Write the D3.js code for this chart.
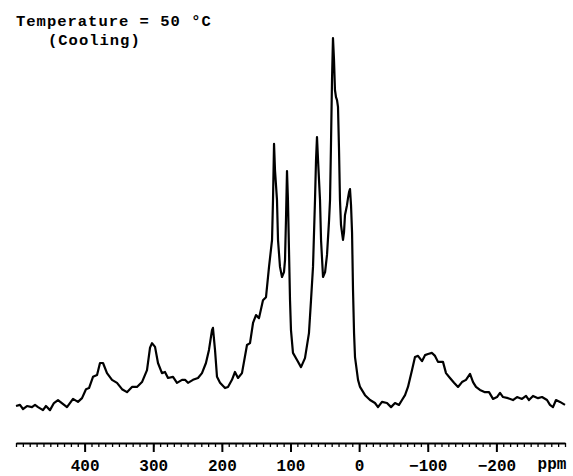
<!DOCTYPE html>
<html>
<head>
<meta charset="utf-8">
<script src="https://cdn.jsdelivr.net/npm/d3@7"></script>
<style>
  body { margin: 0; background: #fff; }
  text { font-family: "Liberation Mono", "DejaVu Sans Mono", monospace; font-weight: bold; }
</style>
</head>
<body>
<svg id="chart"></svg>
<script>
// Chemical shift (ppm) of each traced point, left to right
const ppmValues = [
  500.0, 494.2, 489.8, 484.0, 476.7, 472.3, 467.9, 460.7, 456.3, 450.5,
  444.7, 438.8, 425.7, 416.9, 409.7, 403.8, 398.0, 393.6, 387.8, 381.9,
  377.6, 373.2, 367.4, 360.1, 352.8, 345.5, 338.3, 331.0, 323.7, 316.4,
  309.1, 304.7, 301.8, 297.4, 293.1, 287.3, 282.9, 278.5, 271.2, 265.4,
  258.1, 253.7, 249.4, 242.1, 234.8, 229.0, 223.2, 218.8, 214.4, 213.0,
  210.0, 207.1, 202.7, 195.4, 191.1, 185.3, 180.9, 176.5, 170.7, 163.4,
  159.0, 154.6, 150.3, 145.9, 140.1, 135.7, 131.3, 126.9, 125.5, 124.0,
  122.6, 119.7, 118.2, 115.3, 112.4, 109.5, 108.0, 106.6, 105.1, 103.7,
  102.2, 100.7, 99.3, 96.4, 90.5, 84.7, 78.9, 73.1, 70.1, 67.2,
  64.3, 62.8, 61.4, 59.9, 57.0, 55.5, 52.6, 49.6, 46.8, 43.8,
  42.4, 40.9, 39.5, 38.1, 36.6, 35.2, 33.7, 32.2, 30.8, 29.3,
  27.9, 26.4, 23.5, 22.0, 20.6, 19.1, 17.7, 16.2, 14.7, 13.3,
  11.8, 10.3, 8.9, 7.4, 6.0, 4.5, 1.6, -1.3, -8.6, -15.9,
  -23.1, -27.5, -33.3, -40.6, -46.5, -52.3, -58.1, -62.5, -66.9, -71.2,
  -77.1, -81.4, -85.8, -91.6, -96.0, -100.4, -106.2, -110.6, -114.9, -122.2,
  -126.6, -132.4, -138.3, -144.1, -149.9, -155.7, -161.6, -166.0, -170.3, -176.1,
  -183.4, -189.3, -195.1, -200.9, -205.3, -209.7, -217.0, -224.2, -230.1, -237.3,
  -243.2, -247.5, -253.4, -260.7, -266.5, -273.8, -278.1, -282.5, -286.9, -292.7,
  -300.0
];

// Relative intensity (tallest peak = 100)
const intensityValues = [
  1.6, 1.9, 0.8, 1.6, 1.3, 1.9, 1.3, 0.5, 1.6, 0.5,
  2.4, 3.2, 1.3, 3.5, 2.7, 3.7, 6.1, 6.4, 9.4, 9.9,
  13.1, 13.1, 10.4, 8.6, 7.8, 6.1, 5.3, 6.7, 6.7, 8.0,
  11.2, 17.2, 18.4, 17.4, 13.1, 10.4, 10.7, 9.1, 9.4, 7.8,
  8.6, 8.6, 7.8, 8.6, 9.1, 10.4, 13.1, 16.6, 21.9, 22.5,
  16.6, 9.4, 7.8, 6.4, 6.7, 8.6, 10.7, 9.1, 10.4, 17.9,
  18.4, 23.8, 25.9, 25.1, 29.9, 30.7, 38.8, 46.0, 56.7, 71.7,
  64.7, 56.7, 46.0, 38.8, 36.1, 37.4, 40.6, 51.3, 64.4, 56.7,
  43.3, 29.9, 21.9, 15.8, 13.9, 12.0, 14.4, 21.1, 29.9, 38.8,
  56.7, 67.4, 73.5, 67.4, 56.7, 46.0, 36.1, 37.4, 42.0, 51.3,
  56.7, 72.7, 88.8, 100.0, 94.1, 86.1, 84.2, 83.4, 81.6, 70.1,
  56.7, 50.0, 46.0, 48.1, 52.7, 54.0, 55.3, 57.2, 58.8, 59.6,
  55.3, 47.9, 32.6, 21.1, 14.7, 12.6, 8.6, 6.7, 4.5, 3.2,
  2.4, 1.3, 2.7, 2.4, 1.3, 2.4, 1.9, 3.2, 4.5, 6.7,
  11.2, 14.7, 15.0, 13.6, 15.2, 15.5, 15.8, 15.0, 13.4, 13.4,
  10.4, 9.1, 7.8, 6.7, 8.0, 8.6, 10.2, 8.0, 6.7, 5.9,
  5.3, 5.3, 3.5, 4.0, 5.1, 4.0, 3.7, 3.2, 4.0, 3.5,
  4.3, 3.2, 4.3, 3.7, 4.0, 3.2, 1.9, 1.3, 3.2, 2.7,
  1.9
];

// Axis ticks
const minorTicks = d3.range(-300, 501, 10);
const majorTicks = [400, 300, 200, 100, 0, -100, -200];
const titleLines = ["Temperature = 50 °C", "(Cooling)"];
const unitLabel = "ppm";

const width = 573, height = 476;
const axisY = 443;

const svg = d3.select("#chart").attr("width", width).attr("height", height);

// NMR convention: ppm decreases to the right
const xScale = d3.scaleLinear().domain([500, -300]).range([16, 565]);
const yScale = d3.scaleLinear().domain([0, 100]).range([412, 38]);

const data = ppmValues.map((p, i) => ({ ppm: p, value: intensityValues[i] }));

const line = d3.line()
  .x((d) => xScale(d.ppm))
  .y((d) => yScale(d.value));

svg.append("path")
  .datum(data)
  .attr("fill", "none")
  .attr("stroke", "#000")
  .attr("stroke-width", 2.2)
  .attr("stroke-linejoin", "round")
  .attr("d", line);

// Minor ticks every 10 ppm
const minorAxis = svg.append("g")
  .attr("transform", `translate(0,${axisY})`)
  .call(d3.axisBottom(xScale).tickValues(minorTicks).tickSize(4).tickFormat(""));
minorAxis.select(".domain").remove();
minorAxis.selectAll("line").attr("stroke", "#000").attr("stroke-width", 1.3);

// Major ticks with labels
const majorAxis = svg.append("g")
  .attr("transform", `translate(0,${axisY})`)
  .call(d3.axisBottom(xScale).tickValues(majorTicks).tickSize(9).tickSizeOuter(0).tickPadding(8));
majorAxis.select(".domain").attr("stroke", "#000").attr("stroke-width", 2);
majorAxis.selectAll("line").attr("stroke", "#000").attr("stroke-width", 2);
majorAxis.selectAll("text")
  .attr("font-size", 16)
  .attr("fill", "#000")
  .attr("font-family", "Liberation Mono, monospace")
  .attr("font-weight", "bold");

svg.append("text")
  .attr("x", 552)
  .attr("y", 469)
  .attr("text-anchor", "middle")
  .attr("font-size", 16)
  .text(unitLabel);

// Title
svg.append("text")
  .attr("x", 16)
  .attr("y", 26)
  .attr("font-size", 15.5)
  .attr("letter-spacing", 1)
  .text(titleLines[0]);
svg.append("text")
  .attr("x", 48)
  .attr("y", 45)
  .attr("font-size", 15.5)
  .attr("letter-spacing", 1)
  .text(titleLines[1]);
</script>
</body>
</html>
